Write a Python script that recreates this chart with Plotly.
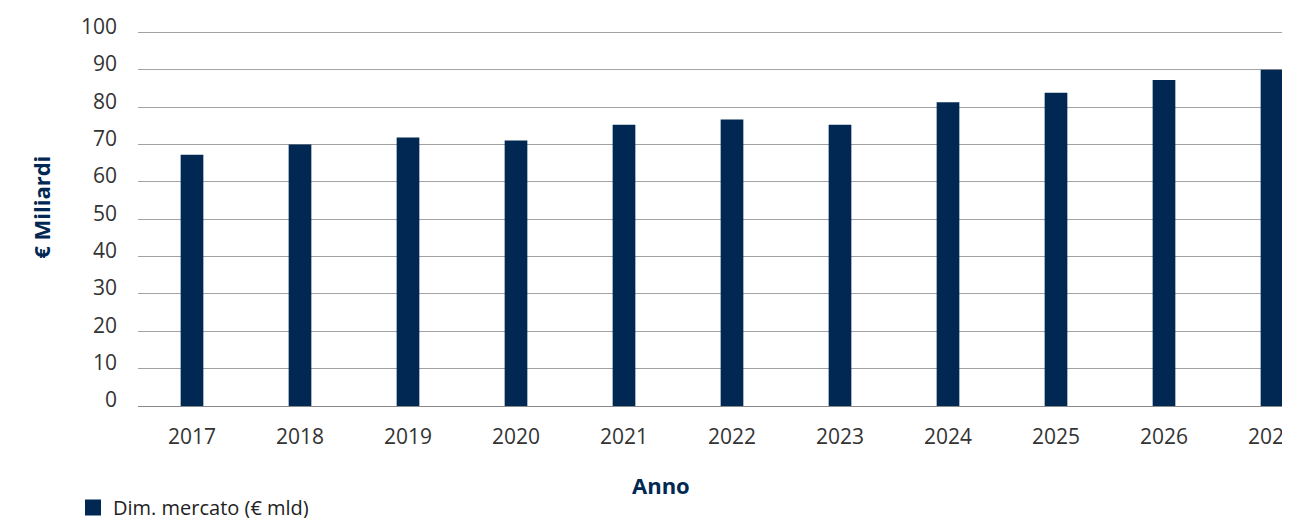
import plotly.graph_objects as go

years = ["2017", "2018", "2019", "2020", "2021", "2022", "2023", "2024", "2025", "2026", "2027"]
market_size = [67.3, 70.0, 71.9, 71.1, 75.3, 76.7, 75.3, 81.3, 83.9, 87.3, 90.0]
y_ticks = [0, 10, 20, 30, 40, 50, 60, 70, 80, 90, 100]
series_name = "Dim. mercato (€ mld)"

NAVY = "#002852"
FONT = "Open Sans"

fig = go.Figure()
fig.add_trace(go.Bar(x=years, y=market_size, marker=dict(color=NAVY, line=dict(width=0)),
                     width=0.21, showlegend=False, name=series_name))
fig.add_trace(go.Scatter(x=[None], y=[None], mode="markers", name=series_name,
                         marker=dict(symbol="square", size=20, color=NAVY)))

# page body has an 8px margin, so figure coords = page coords - 8
OFF = 8
W, H = 1290 - OFF, 518 - OFF
L, T = 138 - OFF, 31 - OFF
BOTTOM = 406.5 - OFF
B = H - BOTTOM
pw = W - L
ph = BOTTOM - T

def px_x(page_x):
    return (page_x - OFF - L) / pw

def px_y(page_y):
    return (BOTTOM - (page_y - OFF)) / ph

fig.update_layout(
    width=W, height=H, template="none",
    margin=dict(l=L, r=0, t=T, b=B, pad=0, autoexpand=False),
    paper_bgcolor="white", plot_bgcolor="white",
    font=dict(family=FONT, size=20, color="#333333"),
    showlegend=True,
    legend=dict(xref="container", yref="container", x=(73 - OFF) / W, y=(H - 480) / H,
                xanchor="left", yanchor="top",
                orientation="h", font=dict(size=20, color="#222222"),
                bgcolor="rgba(0,0,0,0)", itemsizing="trace", itemwidth=30, tracegroupgap=0),
    xaxis=dict(type="category", range=[-0.5, pw / 108 - 0.5], showgrid=False,
               showline=False, zeroline=False, ticks="", automargin=False,
               ticklabelstandoff=16, tickfont=dict(size=21, color="#333333")),
    yaxis=dict(range=[0, 100.4], tickvals=y_ticks, showgrid=True, gridcolor="#a3a3a3",
               gridwidth=1.2, zeroline=True, zerolinecolor="#8a8a8a", zerolinewidth=1.2,
               showline=False, ticks="", automargin=False,
               ticklabelstandoff=20, ticklabelshift=-6, tickfont=dict(size=21, color="#333333")),
    annotations=[
        dict(text="<b>€ Miliardi</b>", xref="paper", yref="paper", x=px_x(41),
             y=px_y(208), xanchor="center", yanchor="middle", textangle=-90, showarrow=False,
             font=dict(size=22, color=NAVY, family=FONT)),
        dict(text="<b>Anno</b>", xref="paper", yref="paper", x=px_x(661),
             y=px_y(486), xanchor="center", yanchor="middle", showarrow=False,
             font=dict(size=22, color=NAVY, family=FONT)),
    ],
)

fig.write_html("out.html")
